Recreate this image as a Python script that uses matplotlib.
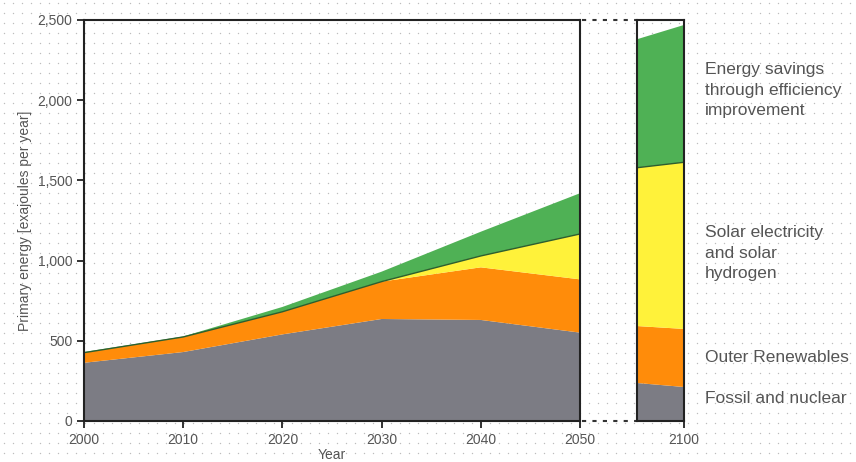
import numpy as np
from matplotlib import pyplot as plt

plt.rcParams['font.family'] = ['Liberation Sans', 'DejaVu Sans']

# datos (exajulios por año)
years = [2000, 2010, 2020, 2030, 2040, 2050]
fossil = [363, 430, 540, 636, 630, 551]
outer_renew = [63, 94, 141, 233, 328, 332]
solar = [0, 0, 0, 0, 71, 283]
savings = [4, 3, 30, 62, 151, 254]

years_2100 = [2090, 2100]
fossil_2100 = [237, 212]
outer_2100 = [355, 362]
solar_2100 = [987, 1039]
savings_2100 = [801, 856]

labels = ["Energy savings\nthrough efficiency\nimprovement",
          "Solar electricity\nand solar\nhydrogen",
          "Outer Renewables",
          "Fossil and nuclear"]
label_y = [2063, 1047, 399, 143]

colores = ["#7c7c84", "#ff8c0a", "#fff23a", "#4fb155"]
gris_texto = "#555555"

fig = plt.figure(figsize=(8.56, 4.62), dpi=100)

# fondo punteado
fondo = fig.add_axes([0, 0, 1, 1], zorder=-10)
gx, gy = np.meshgrid(np.arange(4, 856, 9), np.arange(3, 462, 10))
fondo.scatter(gx.ravel(), gy.ravel(), s=1.0, color="#bdbdbd", linewidths=0)
fondo.set_xlim(0, 856)
fondo.set_ylim(462, 0)
fondo.axis("off")

ax = fig.add_axes([84 / 856, 41 / 462, 496 / 856, 401 / 462])
ax2 = fig.add_axes([637 / 856, 41 / 462, 47 / 856, 401 / 462])

for a, x, series in [(ax, years, [fossil, outer_renew, solar, savings]),
                     (ax2, years_2100, [fossil_2100, outer_2100, solar_2100, savings_2100])]:
    a.set_facecolor("none")
    a.stackplot(x, *series, colors=colores, linewidth=0)
    tope = np.array(series[0]) + np.array(series[1]) + np.array(series[2])
    a.plot(x, tope, color="#2e5e2e", linewidth=1)
    a.set_xlim(x[0], x[-1])
    a.set_ylim(0, 2500)
    for s in a.spines.values():
        s.set_linewidth(1.5)
        s.set_color("#222222")
    a.tick_params(direction="out", length=5, width=1.3, colors="#222222",
                  labelcolor=gris_texto, labelsize=10)

ax.set_xticks(years)
ax.set_yticks(range(0, 2501, 500))
ax.set_yticklabels([f"{v:,}" for v in range(0, 2501, 500)])
ax.set_xlabel("Year", color=gris_texto, fontsize=10, labelpad=1)
ax.set_ylabel("Primary energy [exajoules per year]", color=gris_texto, fontsize=10)

ax2.set_xticks([2100])
ax2.set_yticks([])

# líneas punteadas entre paneles
for yy in [20, 421]:
    fondo.plot([582, 636], [yy, yy], color="#333333", linestyle=(0, (2, 3)), linewidth=1.5)

for texto, yv in zip(labels, label_y):
    ax2.text(1.45, yv, texto, transform=ax2.get_yaxis_transform(), color=gris_texto,
             fontsize=12.5, va="center", ha="left", linespacing=1.45)

fig.savefig("out.png", dpi=100)
